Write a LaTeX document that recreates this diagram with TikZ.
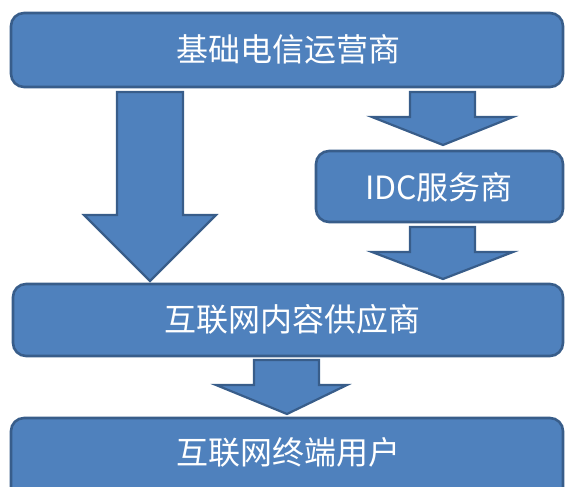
\documentclass[tikz,border=0pt]{standalone}
\usepackage{fontspec}
\setmainfont{Noto Sans CJK SC}
\definecolor{boxfill}{HTML}{4F81BD}
\definecolor{boxline}{HTML}{385D8A}
\tikzset{
  blk/.style={draw=boxline, line width=2.6pt, fill=boxfill, rounded corners=13pt},
  blkarrow/.style={draw=boxline, line width=2.2pt, fill=boxfill, line join=miter},
  lbl/.style={text=white, font=\fontsize{32}{36}\selectfont, inner sep=0pt}
}
\begin{document}
\begin{tikzpicture}[x=1pt,y=-1pt]
\useasboundingbox (0,0) rectangle (565,487);
% boxes
\draw[blk] (11,13) rectangle (563,87);
\node[lbl] (top) at (288,49.5) {基础电信运营商};
\draw[blk] (316,151) rectangle (563,222);
\node[lbl] (idc) at (439,187) {IDC服务商};
\draw[blk] (13,284) rectangle (563,356);
\node[lbl] (icp) at (292,319.5) {互联网内容供应商};
\draw[blk] (11,418) rectangle (563,500);
\node[lbl] (user) at (288,452) {互联网终端用户};
% block arrows
\draw[blkarrow] (117,92) -- (183,92) -- (183,215) -- (216,215) -- (150,281) -- (84,215) -- (117,215) -- cycle;
\draw[blkarrow] (410,92) -- (475,92) -- (475,117) -- (513,117) -- (443,145) -- (372,117) -- (410,117) -- cycle;
\draw[blkarrow] (410,227) -- (475,227) -- (475,252) -- (513,252) -- (443,279) -- (372,252) -- (410,252) -- cycle;
\draw[blkarrow] (254,360) -- (319,360) -- (319,385) -- (347,385) -- (287,414) -- (216,385) -- (254,385) -- cycle;
\end{tikzpicture}
\end{document}
